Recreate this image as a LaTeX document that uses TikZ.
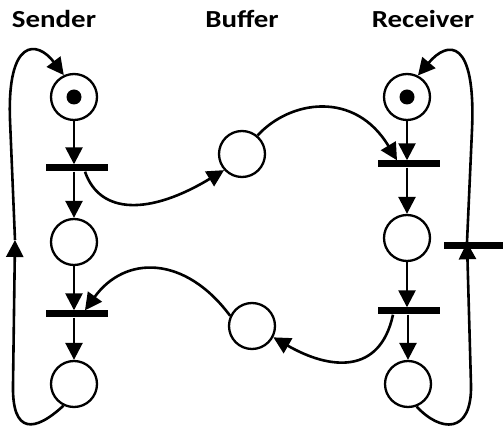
\documentclass[tikz,border=0pt]{standalone}
\usepackage{fontspec}
\setmainfont{Carlito}
\usetikzlibrary{arrows.meta}
\begin{document}
\begin{tikzpicture}[x=1pt,y=-1pt,
 place/.style={circle,draw,line width=2.3pt,minimum size=46pt,inner sep=0pt},
 trans/.style={rectangle,fill=black,minimum width=62pt,minimum height=7pt,inner sep=0pt},
 arc/.style={line width=2.6pt,-{Triangle[length=17pt 0,width=17pt 0]}},
 tokdot/.style={circle,fill=black,minimum size=15pt,inner sep=0pt},
 title/.style={font=\bfseries\fontsize{24.5}{28}\selectfont,xscale=1.18,anchor=base,inner sep=0pt}]
\useasboundingbox (0,0) rectangle (503,427);
% titles
\node[title] (tS) at (54,28) {Sender};
\node[title] (tB) at (242,28) {Buffer};
\node[title] (tR) at (423,28) {Receiver};
% sender
\node[place] (s1) at (74,97) {};
\node[tokdot] (k1) at (s1) {};
\node[trans] (st1) at (77,168) {};
\node[place] (s2) at (74,242) {};
\node[trans] (st2) at (77,314) {};
\node[place] (s3) at (74,384) {};
% buffer
\node[place] (b1) at (242,154) {};
\node[place] (b2) at (252,326) {};
% receiver
\node[place] (r1) at (407,97) {};
\node[tokdot] (k2) at (r1) {};
\node[trans] (rt1) at (409,164) {};
\node[place] (r2) at (407,238) {};
\node[trans] (rt2) at (409,311) {};
\node[place] (r3) at (408,384) {};
\node[trans,minimum width=60pt] (rt3) at (474,246) {};
% sender chain
\draw[arc] (s1.south) -- (s1.south |- st1.north);
\draw[arc] (s2.north |- st1.south) -- (s2.north);
\draw[arc] (s2.south) -- (s2.south |- st2.north);
\draw[arc] (s3.north |- st2.south) -- (s3.north);
% receiver chain
\draw[arc] (r1.south) -- (r1.south |- rt1.north);
\draw[arc] (r2.north |- rt1.south) -- (r2.north);
\draw[arc] (r2.south) -- (r2.south |- rt2.north);
\draw[arc] (r3.north |- rt2.south) -- (r3.north);
% buffer arcs
\draw[arc] ([xshift=8pt]st1.south) .. controls (100,215) and (150,215) .. (b1.222);
\draw[arc] (b1.50) .. controls (290,100) and (355,90) .. ([xshift=-12pt]rt1.north);
\draw[arc] ([xshift=-16pt]rt2.south) .. controls (380,375) and (330,370) .. (b2.-28);
\draw[arc] (b2.155) .. controls (185,255) and (125,255) .. ([xshift=8pt]st2.north);
% left loop
\coordinate (lm) at (15,240);
\draw[arc] (s3.244) .. controls (35,432) and (12,435) .. (13,385) -- (lm);
\draw[arc] (lm) -- (10,120) .. controls (7,38) and (37,40) .. (s1.115);
% right loop
\draw[arc] (r3.-69) .. controls (440,432) and (472,435) .. (471,385) -- ([xshift=-7pt]rt3.north);
\draw[arc] ([xshift=-7pt]rt3.north) -- (472,130) .. controls (476,38) and (448,40) .. (r1.63);
\end{tikzpicture}
\end{document}
